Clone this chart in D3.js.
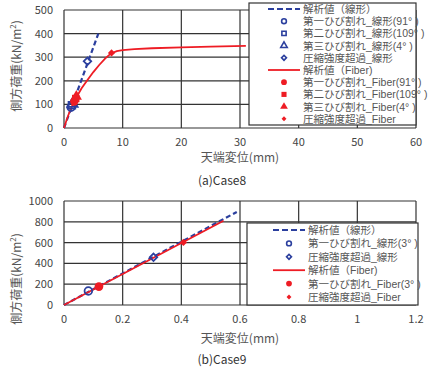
<!DOCTYPE html>
<html><head><meta charset="utf-8">
<script src="https://cdn.jsdelivr.net/npm/d3@7"></script>
<style>body{margin:0;background:#fff}svg text{font-family:"Noto Sans CJK JP","Noto Sans",sans-serif}svg text.lg{font-family:"Liberation Sans","Noto Sans CJK JP",sans-serif}</style>
</head><body><svg id="c" width="441" height="369"></svg>
<script>
// ---- Case8 data ----
const c8Ticks = [0,10,20,30,40,50,60];
const c8YTicks = [0,100,200,300,400,500];
const c8LinX = [0, 5.85];
const c8LinY = [0, 400];
const c8FibX = [0,0.5,1,1.5,2,3,4,5,6,7,8,9,10,12,15,20,25,31];
const c8FibY = [0,38,72,100,125,168,203,237,267,294,316,326,330,334,338,342,345,348];
const c8LinPts = [{k:"circle",x:1.2,y:88},{k:"square",x:1.35,y:96},{k:"triangle",x:1.45,y:102},{k:"diamond",x:4.0,y:283}];
const c8FibPts = [{k:"circle",x:1.75,y:112},{k:"square",x:2.0,y:125},{k:"triangle",x:2.1,y:133},{k:"diamond",x:8.1,y:318}];
const c8Legend = ["解析値（線形）","第一ひび割れ_線形(91° )","第二ひび割れ_線形(109° )","第三ひび割れ_線形(4° )","圧縮強度超過_線形","解析値（Fiber)","第一ひび割れ_Fiber(91° )","第二ひび割れ_Fiber(109° )","第三ひび割れ_Fiber(4° )","圧縮強度超過_Fiber"];
const c8LegendKinds = ["dash","circle","square","triangle","diamond","line","circle","square","triangle","diamond"];
// ---- Case9 data ----
const c9Ticks = [0,0.2,0.4,0.6,0.8,1,1.2];
const c9YTicks = [0,200,400,600,800,1000];
const c9LinX = [0, 0.589];
const c9LinY = [0, 895];
const c9FibX = [0, 0.544];
const c9FibY = [0, 810];
const c9LinPts = [{k:"circle",x:0.083,y:135},{k:"diamond",x:0.305,y:460}];
const c9FibPts = [{k:"circle",x:0.119,y:177},{k:"diamond",x:0.407,y:602}];
const c9Legend = ["解析値（線形）","第一ひび割れ_線形(3° )","圧縮強度超過_線形","解析値（Fiber)","第一ひび割れ_Fiber(3° )","圧縮強度超過_Fiber"];
const c9LegendKinds = ["dash","circle","diamond","line","circle","diamond"];

const BLUE = "#2b3f9e", RED = "#ee1c24", GRID = "#333";
const svg = d3.select("#c");

function symPath(k, size){
  const t = {circle:d3.symbolCircle,square:d3.symbolSquare,triangle:d3.symbolTriangle,diamond:d3.symbolSquare}[k];
  return d3.symbol().type(t).size(size)();
}
function rot(k){ return k==="diamond" ? " rotate(45)" : ""; }

function chart(o){
  const x = d3.scaleLinear().domain(o.xd).range([64,416]);
  const y = d3.scaleLinear().domain(o.yd).range(o.yr);
  const g = svg.append("g");
  g.selectAll(".vx").data(o.xt).join("line").attr("x1",d=>x(d)).attr("x2",d=>x(d))
    .attr("y1",y.range()[1]).attr("y2",y.range()[0]).attr("stroke",GRID).attr("stroke-width",1.2);
  g.selectAll(".hy").data(o.yt).join("line").attr("y1",d=>y(d)).attr("y2",d=>y(d))
    .attr("x1",64).attr("x2",416).attr("stroke",GRID).attr("stroke-width",1.2);
  g.selectAll(".xl").data(o.xt).join("text").attr("x",d=>x(d)).attr("y",o.yr[0]+18)
    .attr("text-anchor","middle").attr("font-size",11).attr("fill","#444").text(d=>d);
  g.selectAll(".yl").data(o.yt).join("text").attr("x",53).attr("y",d=>y(d)+4)
    .attr("text-anchor","end").attr("font-size",11).attr("fill","#444").text(d=>d);
  g.append("text").attr("x",240).attr("y",o.xlabY).attr("text-anchor","middle").attr("font-size",12).attr("fill","#555").text("天端変位(mm)");
  const yl = g.append("text").attr("transform",`translate(21,${o.ylabC}) rotate(-90)`).attr("text-anchor","middle").attr("font-size",12).attr("fill","#555");
  yl.append("tspan").text("側方荷重(kN/m");
  yl.append("tspan").attr("font-size",8).attr("dy",-5).text("2");
  yl.append("tspan").attr("dy",5).text(")");
  g.append("text").attr("x",222).attr("y",o.capY).attr("text-anchor","middle").attr("font-size",12).attr("fill","#333").text(o.cap);
  const ln = d3.line().x(d=>x(d[0])).y(d=>y(d[1]));
  g.append("path").attr("d",ln(d3.zip(o.linX,o.linY))).attr("fill","none").attr("stroke",BLUE).attr("stroke-width",2.2).attr("stroke-dasharray","5,3");
  g.append("path").attr("d",ln(d3.zip(o.fibX,o.fibY))).attr("fill","none").attr("stroke",RED).attr("stroke-width",1.8);
  g.selectAll(".lp").data(o.linPts).join("path").attr("transform",d=>`translate(${x(d.x)},${y(d.y)})${rot(d.k)}`)
    .attr("d",d=>symPath(d.k, d.k==="diamond"?28:45)).attr("fill","none").attr("stroke",BLUE).attr("stroke-width",1.8);
  g.selectAll(".fp").data(o.fibPts).join("path").attr("transform",d=>`translate(${x(d.x)},${y(d.y)})${rot(d.k)}`)
    .attr("d",d=>symPath(d.k, d.k==="diamond"?26:o.fibSize)).attr("fill",RED).attr("stroke","none");
  const L = o.leg;
  g.append("rect").attr("x",L.x0).attr("y",L.y0).attr("width",L.x1-L.x0).attr("height",L.y1-L.y0)
    .attr("fill","#fff").attr("stroke","#333").attr("stroke-width",1.2);
  o.legText.forEach((t,i)=>{
    const yy = L.r0 + i*L.dr, k = o.legKinds[i], blue = i < o.legText.length/2;
    if(k==="dash") g.append("line").attr("x1",L.lx0).attr("x2",L.lx1).attr("y1",yy).attr("y2",yy).attr("stroke",BLUE).attr("stroke-width",2.2).attr("stroke-dasharray","6,3");
    else if(k==="line") g.append("line").attr("x1",L.lx0).attr("x2",L.lx1).attr("y1",yy).attr("y2",yy).attr("stroke",RED).attr("stroke-width",1.8);
    else g.append("path").attr("transform",`translate(${(L.lx0+L.lx1)/2},${yy})${rot(k)}`).attr("d",symPath(k, blue?(k==="diamond"?12:18):(k==="diamond"?12:26)))
      .attr("fill",blue?"none":RED).attr("stroke",blue?BLUE:"none").attr("stroke-width",1.6);
    g.append("text").attr("class","lg").attr("x",L.tx).attr("y",yy+4).attr("font-size",10.5).attr("fill","#555").text(t);
  });
}

chart({xd:[0,60],yd:[0,500],yr:[128,10],xt:c8Ticks,yt:c8YTicks,linX:c8LinX,linY:c8LinY,fibX:c8FibX,fibY:c8FibY,
  linPts:c8LinPts,fibPts:c8FibPts,fibSize:55,xlabY:162,ylabC:66,capY:185,cap:"(a)Case8",
  legText:c8Legend,legKinds:c8LegendKinds,
  leg:{x0:249,x1:416,y0:3,y1:125,r0:9,dr:12.2,lx0:268,lx1:300,tx:303}});
chart({xd:[0,1.2],yd:[0,1000],yr:[305,201],xt:c9Ticks,yt:c9YTicks,linX:c9LinX,linY:c9LinY,fibX:c9FibX,fibY:c9FibY,
  linPts:c9LinPts,fibPts:c9FibPts,fibSize:60,xlabY:343,ylabC:279,capY:364,cap:"(b)Case9",
  legText:c9Legend,legKinds:c9LegendKinds,
  leg:{x0:247,x1:418,y0:223,y1:305,r0:230,dr:13.4,lx0:273,lx1:305,tx:308}});
</script></body></html>
